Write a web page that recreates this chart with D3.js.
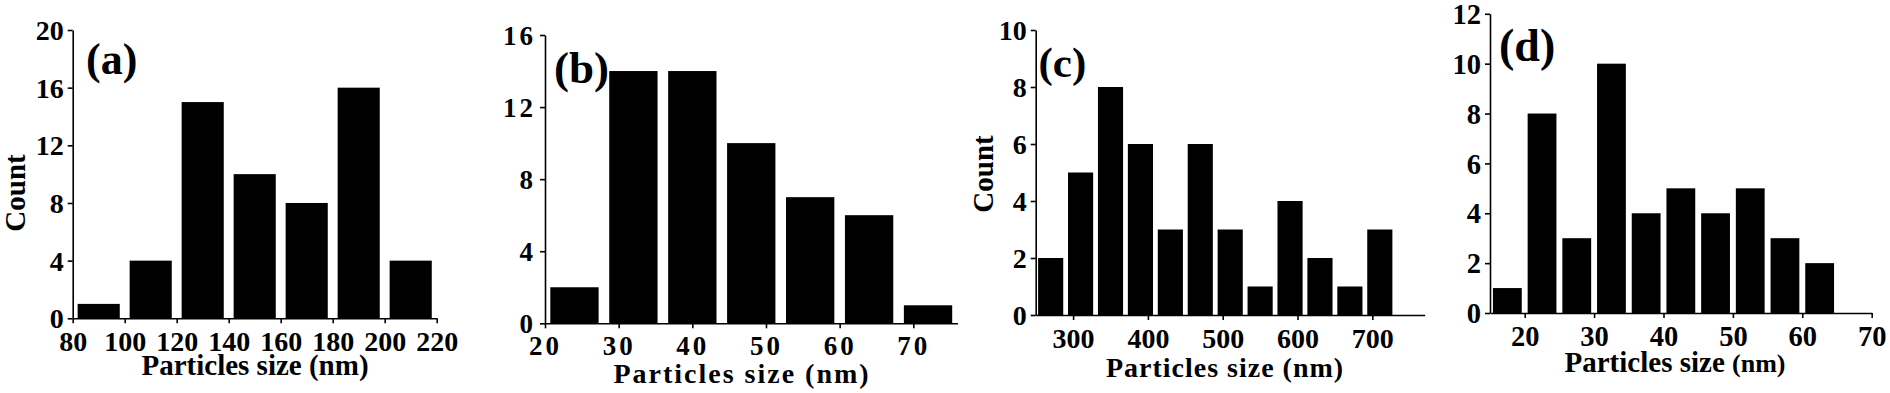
<!DOCTYPE html>
<html>
<head>
<meta charset="utf-8">
<script src="https://cdn.jsdelivr.net/npm/d3@7"></script>
<style>
  html, body { margin: 0; padding: 0; background: #fff; }
  svg text { font-family: "Liberation Serif", "Times New Roman", serif; font-weight: bold; fill: #000; }
</style>
</head>
<body>
<svg id="chart" width="1890" height="393"></svg>
<script>
// ---- data ----
const sizeA = [90, 110, 130, 150, 170, 190, 210];
const countA = [1, 4, 15, 10, 8, 16, 4];
const binWidthA = 20;
const xTicksA = [80, 100, 120, 140, 160, 180, 200, 220];
const yTicksA = [0, 4, 8, 12, 16, 20];

const sizeB = [24, 32, 40, 48, 56, 64, 72];
const countB = [2, 14, 14, 10, 7, 6, 1];
const binWidthB = 8;
const xTicksB = [20, 30, 40, 50, 60, 70];
const yTicksB = [0, 4, 8, 12, 16];

const sizeC = [270, 310, 350, 390, 430, 470, 510, 550, 590, 630, 670, 710];
const countC = [2, 5, 8, 6, 3, 6, 3, 1, 4, 2, 1, 3];
const binWidthC = 40;
const xTicksC = [300, 400, 500, 600, 700];
const yTicksC = [0, 2, 4, 6, 8, 10];

const sizeD = [17.5, 22.5, 27.5, 32.5, 37.5, 42.5, 47.5, 52.5, 57.5, 62.5];
const countD = [1, 8, 3, 10, 4, 5, 4, 5, 3, 2];
const binWidthD = 5;
const xTicksD = [20, 30, 40, 50, 60, 70];
const yTicksD = [0, 2, 4, 6, 8, 10, 12];

const panelLabels = ["(a)", "(b)", "(c)", "(d)"];
const xTitle = "Particles size ";
const xTitleUnit = "(nm)";
const yTitle = "Count";

// ---- layout (positions/styles) ----
const panels = [
  { sizes: sizeA, counts: countA, bw: binWidthA, xDom: [80, 220], yDom: [0, 20], xTicks: xTicksA, yTicks: yTicksA,
    x0: 72.7, x1: 436.7, y0: 318.3, y1: 30, fill: 0.81,
    label: panelLabels[0], lx: 86, ly: 73.5, lsize: 44,
    count: true, cx: 25, cy: 193,
    tx: 255, ty: 375, tsize: 29, tspace: 0, unitSize: 29,
    tickFont: 28, tickSpace: 0 },
  { sizes: sizeB, counts: countB, bw: binWidthB, xDom: [20, 76], yDom: [0, 16], xTicks: xTicksB, yTicks: yTicksB,
    x0: 545, x1: 957.5, y0: 323.3, y1: 35, fill: 0.82,
    label: panelLabels[1], lx: 554, ly: 82.5, lsize: 45,
    count: false,
    tx: 742, ty: 382.5, tsize: 28, tspace: 2, unitSize: 28,
    tickFont: 27, tickSpace: 3 },
  { sizes: sizeC, counts: countC, bw: binWidthC, xDom: [250, 770], yDom: [0, 10], xTicks: xTicksC, yTicks: yTicksC,
    x0: 1035.7, x1: 1424.7, y0: 315, y1: 30, fill: 0.84,
    label: panelLabels[2], lx: 1038.5, ly: 77, lsize: 43,
    count: true, cx: 993, cy: 174,
    tx: 1225, ty: 376.5, tsize: 28, tspace: 1, unitSize: 28,
    tickFont: 28, tickSpace: 0 },
  { sizes: sizeD, counts: countD, bw: binWidthD, xDom: [15, 70], yDom: [0, 12], xTicks: xTicksD, yTicks: yTicksD,
    x0: 1490, x1: 1871.7, y0: 313, y1: 13.8, fill: 0.83,
    label: panelLabels[3], lx: 1499, ly: 61, lsize: 46,
    count: false,
    tx: 1675, ty: 371.5, tsize: 29, tspace: 0, unitSize: 26,
    tickFont: 28.5, tickSpace: 0 }
];

const svg = d3.select("#chart");

panels.forEach(p => {
  const x = d3.scaleLinear().domain(p.xDom).range([p.x0, p.x1]);
  const y = d3.scaleLinear().domain(p.yDom).range([p.y0, p.y1]);
  const g = svg.append("g");

  // bars
  const data = p.sizes.map((s, i) => ({ s, c: p.counts[i] }));
  g.selectAll("rect.bar").data(data).enter().append("rect")
    .attr("class", "bar")
    .attr("x", d => x(d.s - p.bw * p.fill / 2))
    .attr("width", d => x(d.s + p.bw * p.fill / 2) - x(d.s - p.bw * p.fill / 2))
    .attr("y", d => y(d.c))
    .attr("height", d => y(0) - y(d.c))
    .attr("fill", "#000");

  // x axis
  const xa = g.append("g").attr("transform", `translate(0,${p.y0})`)
    .call(d3.axisBottom(x).tickValues(p.xTicks).tickSize(5).tickPadding(8).tickSizeOuter(0));
  // y axis
  const ya = g.append("g").attr("transform", `translate(${p.x0},0)`)
    .call(d3.axisLeft(y).tickValues(p.yTicks).tickSize(5).tickPadding(4).tickSizeOuter(0));

  [xa, ya].forEach(a => {
    a.select(".domain").attr("stroke", "#000").attr("stroke-width", 1.6);
    a.selectAll(".tick line").attr("stroke", "#000").attr("stroke-width", 1.6);
    a.selectAll(".tick text")
      .attr("font-family", "Liberation Serif, Times New Roman, serif")
      .attr("font-weight", "bold")
      .attr("font-size", p.tickFont)
      .attr("letter-spacing", p.tickSpace)
      .attr("fill", "#000");
  });
  ya.selectAll(".tick text").attr("dy", "0.34em");

  // panel label
  g.append("text").attr("x", p.lx).attr("y", p.ly)
    .attr("font-size", p.lsize).text(p.label);

  // x title
  const t = g.append("text").attr("x", p.tx).attr("y", p.ty)
    .attr("text-anchor", "middle")
    .attr("font-size", p.tsize)
    .attr("letter-spacing", p.tspace);
  t.append("tspan").text(xTitle);
  t.append("tspan").attr("font-size", p.unitSize).text(xTitleUnit);

  // y title
  if (p.count) {
    g.append("text")
      .attr("transform", `translate(${p.cx},${p.cy}) rotate(-90)`)
      .attr("text-anchor", "middle")
      .attr("font-size", 29)
      .text(yTitle);
  }
});
</script>
</body>
</html>
